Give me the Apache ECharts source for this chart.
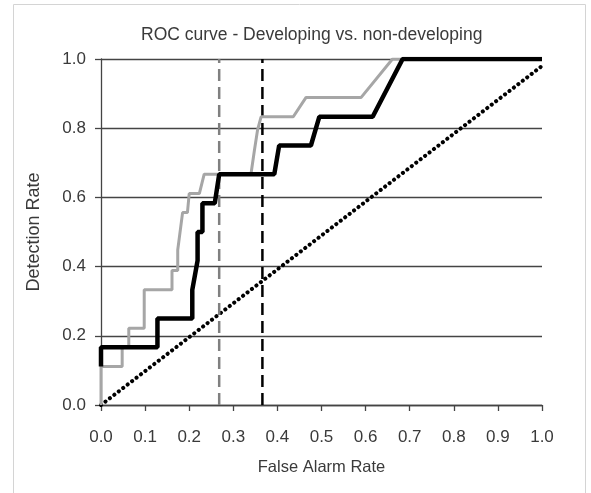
<!DOCTYPE html>
<html>
<head>
<meta charset="utf-8">
<script src="https://cdn.jsdelivr.net/npm/echarts@6/dist/echarts.min.js"></script>
<style>
  html, body { margin: 0; padding: 0; background: #fff; }
  #chart { width: 591px; height: 493px; }
</style>
</head>
<body>
<div id="chart"></div>
<script>
// ROC curve, developing vs non-developing.
const xTicks = [0, 0.1, 0.2, 0.3, 0.4, 0.5, 0.6, 0.7, 0.8, 0.9, 1.0];
const yTicks = [0, 0.2, 0.4, 0.6, 0.8, 1.0];

// black step curve
const rocBlack = [
  [0, 0.111], [0, 0.167], [0.128, 0.167], [0.128, 0.25], [0.207, 0.25],
  [0.207, 0.333], [0.219, 0.417], [0.219, 0.5], [0.23, 0.5], [0.23, 0.583],
  [0.258, 0.583], [0.268, 0.667], [0.393, 0.667], [0.404, 0.75], [0.476, 0.75],
  [0.495, 0.833], [0.616, 0.833], [0.684, 1.0], [1.0, 1.0]
];

// grey step curve
const rocGrey = [
  [0, 0], [0, 0.111], [0.048, 0.111], [0.048, 0.167], [0.063, 0.167],
  [0.063, 0.222], [0.098, 0.222], [0.098, 0.333], [0.161, 0.333], [0.161, 0.389],
  [0.174, 0.389], [0.174, 0.448], [0.185, 0.556], [0.196, 0.556], [0.2, 0.611],
  [0.223, 0.611], [0.234, 0.667], [0.34, 0.667], [0.348, 0.737], [0.355, 0.795],
  [0.363, 0.833], [0.436, 0.833], [0.465, 0.889], [0.59, 0.889], [0.661, 1.0],
  [1.0, 1.0]
];

// threshold markers and chance line
const greyCut = [[0.268, 0], [0.268, 1.0]];
const blackCut = [[0.366, 0], [0.366, 1.0]];
const chanceLine = [[0, 0], [1.0, 0.98]];

const FONT = 'Liberation Sans, Arial, sans-serif';
const TEXT = '#3a3a3a';
const AXIS = '#444';

const chart = echarts.init(document.getElementById('chart'));

chart.setOption({
  animation: false,
  title: {
    text: 'ROC curve - Developing vs. non-developing',
    left: 136, top: 21,
    textStyle: { fontFamily: FONT, fontSize: 17.5, fontWeight: 'normal', color: TEXT },
  },
  graphic: [{
    type: 'rect', silent: true, z: -1,
    shape: { x: 13.5, y: 4.5, width: 572, height: 490 },
    style: { fill: 'none', stroke: '#d4d4d4', lineWidth: 1 },
  }],
  grid: { left: 101, right: 49, top: 59, bottom: 88 },
  xAxis: {
    type: 'value', min: xTicks[0], max: xTicks[xTicks.length - 1], interval: 0.1,
    name: 'False Alarm Rate', nameLocation: 'middle', nameGap: 54,
    nameTextStyle: { fontFamily: FONT, fontSize: 16.5, color: TEXT },
    axisLine: { show: true, lineStyle: { color: AXIS, width: 1.3 } },
    axisTick: { show: true, inside: false, length: 6, lineStyle: { color: AXIS, width: 1.3 } },
    axisLabel: { fontFamily: FONT, fontSize: 17, color: TEXT, margin: 24,
      formatter: v => v.toFixed(1) },
    splitLine: { show: false },
  },
  yAxis: {
    type: 'value', min: yTicks[0], max: yTicks[yTicks.length - 1], interval: 0.2,
    name: 'Detection Rate', nameLocation: 'middle', nameGap: 58,
    nameTextStyle: { fontFamily: FONT, fontSize: 18, color: TEXT },
    axisLine: { show: true, lineStyle: { color: AXIS, width: 1.3 } },
    axisTick: { show: true, inside: false, length: 6, lineStyle: { color: AXIS, width: 1.3 } },
    axisLabel: { fontFamily: FONT, fontSize: 17, color: TEXT, margin: 15,
      formatter: v => v.toFixed(1) },
    splitLine: { show: true, lineStyle: { color: AXIS, width: 1.3 } },
  },
  series: [
    {
      type: 'line', data: chanceLine, showSymbol: false, z: 2,
      lineStyle: { color: '#000', width: 4, type: [0.1, 5.5], cap: 'round' },
    },
    {
      type: 'line', data: greyCut, showSymbol: false, z: 3,
      lineStyle: { color: '#808080', width: 2.5, type: [12, 6] },
    },
    {
      type: 'line', data: blackCut, showSymbol: false, z: 3,
      lineStyle: { color: '#000', width: 2.5, type: [12, 6] },
    },
    {
      type: 'line', data: rocGrey, showSymbol: false, z: 4,
      lineStyle: { color: '#a6a6a6', width: 3 },
    },
    {
      type: 'line', data: rocBlack, showSymbol: false, z: 5,
      lineStyle: { color: '#000', width: 4.5 },
    },
  ],
});
</script>
</body>
</html>
